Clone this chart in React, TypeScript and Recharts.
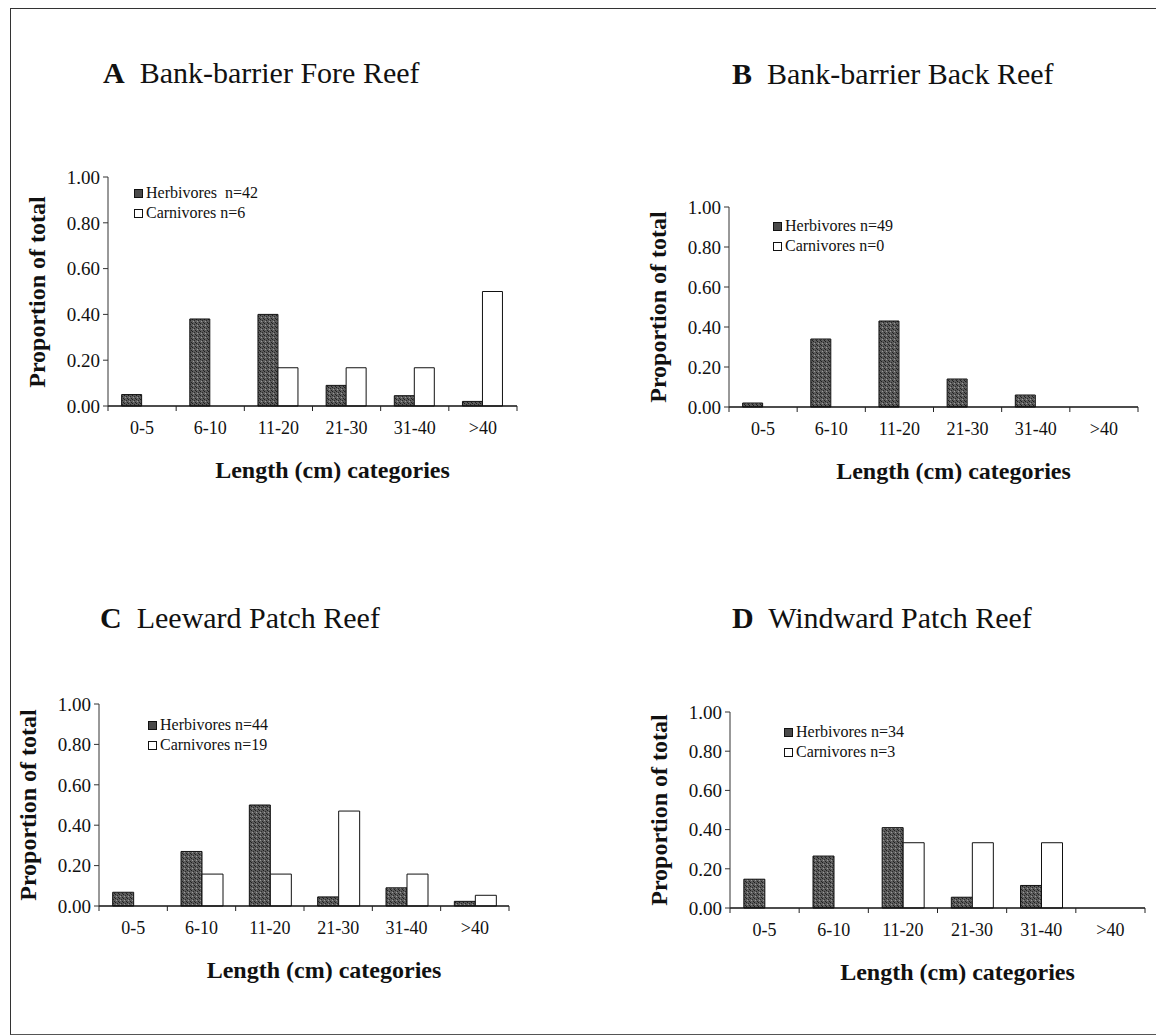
import React from 'react';
import { BarChart, Bar, XAxis, YAxis, Legend } from 'recharts';

// length classes (cm) and the proportions
const categories = ['0-5', '6-10', '11-20', '21-30', '31-40', '>40'];
const yTicks = [0, 0.2, 0.4, 0.6, 0.8, 1.0];

const foreHerb = [0.05, 0.38, 0.4, 0.09, 0.045, 0.02];
const foreCarn = [0, 0, 0.167, 0.167, 0.167, 0.5];
const backHerb = [0.02, 0.34, 0.43, 0.14, 0.06, 0];
const backCarn = [0, 0, 0, 0, 0, 0];
const leeHerb = [0.068, 0.27, 0.5, 0.045, 0.09, 0.023];
const leeCarn = [0, 0.158, 0.158, 0.47, 0.158, 0.053];
const windHerb = [0.147, 0.265, 0.41, 0.055, 0.115, 0];
const windCarn = [0, 0, 0.333, 0.333, 0.333, 0];

const FONT = "'Times New Roman', 'Liberation Serif', 'DejaVu Serif', serif";
const HERB_FILL = '#4a4a4a';

interface PanelProps {
  id: string;
  letter: string;
  title: string;
  herb: number[];
  carn: number[];
  herbLabel: string;
  carnLabel: string;
  // plot area
  px: number;
  py: number;
  pw: number;
  ph: number;
  titleX: number;
  titleY: number;
  legendDx: number;
  legendDy: number;
}

const buildRows = (herb: number[], carn: number[]) =>
  categories.map((c, i) => ({ cat: c, herb: herb[i], carn: carn[i] }));

const Panel = (p: PanelProps) => {
  const yAxisW = 60;
  const mTop = 10;
  const mRight = 10;
  const xAxisH = 40;
  const half = p.pw / categories.length / 2;
  const rows = buildRows(p.herb, p.carn);
  const patId = 'stipple-' + p.id;

  const XTick = (props: any) => {
    const { x, y, payload, index } = props;
    return (
      <g>
        <line x1={x - half} x2={x - half} y1={y} y2={y + 5} stroke="#222" strokeWidth={1} />
        {index === categories.length - 1 && (
          <line x1={x + half} x2={x + half} y1={y} y2={y + 5} stroke="#222" strokeWidth={1} />
        )}
        <text x={x} y={y + 28} textAnchor="middle" fontSize={18} fontFamily={FONT} fill="#111">
          {payload.value}
        </text>
      </g>
    );
  };

  const legendContent = () => (
    <div style={{ fontFamily: FONT, fontSize: 16, color: '#111', lineHeight: '20px' }}>
      <div style={{ display: 'flex', alignItems: 'center', whiteSpace: 'pre' }}>
        <span style={{ width: 7, height: 7, background: HERB_FILL, border: '1px solid #111', marginRight: 3 }} />
        {p.herbLabel}
      </div>
      <div style={{ display: 'flex', alignItems: 'center', whiteSpace: 'pre' }}>
        <span style={{ width: 7, height: 7, background: '#fff', border: '1px solid #111', marginRight: 3 }} />
        {p.carnLabel}
      </div>
    </div>
  );

  return (
    <>
      <div
        style={{
          position: 'absolute',
          left: p.titleX,
          top: p.titleY - 27,
          fontFamily: FONT,
          fontSize: 30,
          color: '#111',
          whiteSpace: 'pre',
          lineHeight: '32px'
        }}
      >
        <b>{p.letter}</b>
        {'  ' + p.title}
      </div>
      <div
        style={{
          position: 'absolute',
          left: p.px - 71 - 120,
          top: p.py + p.ph / 2 - 14,
          width: 240,
          textAlign: 'center',
          transform: 'rotate(-90deg)',
          fontFamily: FONT,
          fontSize: 24,
          fontWeight: 'bold',
          color: '#111',
          lineHeight: '28px'
        }}
      >
        Proportion of total
      </div>
      <div
        style={{
          position: 'absolute',
          left: p.px + p.pw / 2 + 20 - 160,
          top: p.py + p.ph + 50,
          width: 320,
          textAlign: 'center',
          fontFamily: FONT,
          fontSize: 24,
          fontWeight: 'bold',
          color: '#111',
          lineHeight: '28px'
        }}
      >
        Length (cm) categories
      </div>
      <div style={{ position: 'absolute', left: p.px - yAxisW, top: p.py - mTop }}>
        <BarChart
          width={p.pw + yAxisW + mRight}
          height={p.ph + mTop + xAxisH}
          data={rows}
          margin={{ top: mTop, right: mRight, left: 0, bottom: 0 }}
          barCategoryGap="20%"
          barGap={0}
        >
          <defs>
            <pattern id={patId} width="4" height="4" patternUnits="userSpaceOnUse">
              <rect width="4" height="4" fill="#5c5c5c" />
              <rect x="0" y="0" width="1" height="1" fill="#1e1e1e" />
              <rect x="2" y="1" width="1" height="1" fill="#2a2a2a" />
              <rect x="1" y="2" width="1" height="1" fill="#9a9a9a" />
              <rect x="3" y="3" width="1" height="1" fill="#222" />
            </pattern>
          </defs>
          <XAxis
            dataKey="cat"
            height={xAxisH}
            tickSize={0}
            tickMargin={0}
            tickLine={false}
            interval={0}
            tick={<XTick />}
            axisLine={{ stroke: '#111', strokeWidth: 1.6 }}
          />
          <YAxis
            width={yAxisW}
            domain={[0, 1]}
            ticks={yTicks}
            interval={0}
            tickSize={5}
            tickMargin={3}
            tickFormatter={(v: number) => v.toFixed(2)}
            tick={{ fontSize: 19, fontFamily: FONT, fill: '#111' }}
            tickLine={{ stroke: '#333' }}
            axisLine={{ stroke: '#333', strokeWidth: 1 }}
          />
          <Legend
            layout="vertical"
            align="center"
            verticalAlign="middle"
            content={legendContent}
            wrapperStyle={{ left: yAxisW + p.legendDx - 4, top: mTop + p.legendDy - 10, width: 'auto', height: 'auto' }}
          />
          <Bar dataKey="herb" fill={`url(#${patId})`} stroke="#111" strokeWidth={1} isAnimationActive={false} />
          <Bar dataKey="carn" fill="#ffffff" stroke="#111" strokeWidth={1} isAnimationActive={false} />
        </BarChart>
      </div>
    </>
  );
};

export default function App() {
  return (
    <div
      style={{
        position: 'absolute',
        left: 0,
        top: 0,
        width: 1156,
        height: 1036,
        background: '#fff',
        overflow: 'hidden'
      }}
    >
      <div
        style={{
          position: 'absolute',
          left: 10,
          top: 8,
          width: 1160,
          height: 1025,
          borderLeft: '1.5px solid #333',
          borderTop: '1.5px solid #333',
          borderBottom: '1.5px solid #555'
        }}
      />
      <Panel
        id="a"
        letter="A"
        title="Bank-barrier Fore Reef"
        herb={foreHerb}
        carn={foreCarn}
        herbLabel="Herbivores  n=42"
        carnLabel="Carnivores n=6"
        px={108}
        py={177}
        pw={409}
        ph={229}
        titleX={103}
        titleY={84}
        legendDx={30}
        legendDy={16}
      />
      <Panel
        id="b"
        letter="B"
        title="Bank-barrier Back Reef"
        herb={backHerb}
        carn={backCarn}
        herbLabel="Herbivores n=49"
        carnLabel="Carnivores n=0"
        px={729}
        py={207}
        pw={409}
        ph={200}
        titleX={732}
        titleY={85}
        legendDx={48}
        legendDy={19}
      />
      <Panel
        id="c"
        letter="C"
        title="Leeward Patch Reef"
        herb={leeHerb}
        carn={leeCarn}
        herbLabel="Herbivores n=44"
        carnLabel="Carnivores n=19"
        px={99}
        py={704}
        pw={410}
        ph={202}
        titleX={100}
        titleY={629}
        legendDx={53}
        legendDy={21}
      />
      <Panel
        id="d"
        letter="D"
        title="Windward Patch Reef"
        herb={windHerb}
        carn={windCarn}
        herbLabel="Herbivores n=34"
        carnLabel="Carnivores n=3"
        px={730}
        py={712}
        pw={415}
        ph={196}
        titleX={732}
        titleY={629}
        legendDx={58}
        legendDy={20}
      />
    </div>
  );
}
